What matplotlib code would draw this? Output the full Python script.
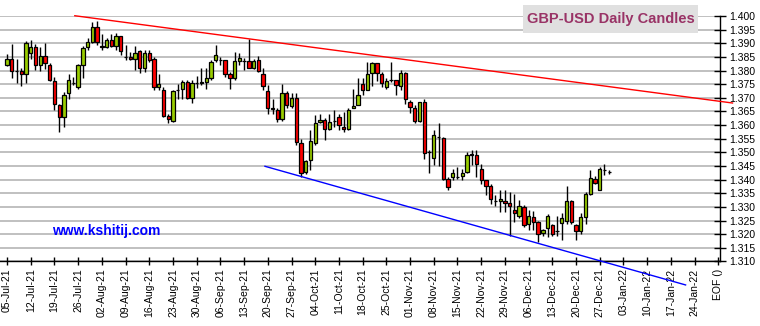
import numpy as np
import pandas as pd
import matplotlib
matplotlib.use("Agg")
import matplotlib.pyplot as plt
from matplotlib.patches import Rectangle

plt.rcParams['font.family'] = ['Liberation Sans', 'DejaVu Sans']

# GBP-USD daily OHLC, first session 05-Jul-2021
start_date = "2021-07-05"
opens = [1.3822, 1.3844, 1.3800, 1.3800, 1.3786, 1.3865, 1.3885, 1.3819, 1.3855, 1.3822,
         1.3760, 1.3672, 1.3628, 1.3716, 1.3756, 1.3738, 1.3822, 1.3885, 1.3906, 1.3958,
         1.3889, 1.3885, 1.3912, 1.3890, 1.3926, 1.3851, 1.3848, 1.3841, 1.3870, 1.3811,
         1.3866, 1.3841, 1.3738, 1.3728, 1.3635, 1.3615, 1.3730, 1.3733, 1.3757, 1.3700,
         1.3755, 1.3756, 1.3759, 1.3771, 1.3838, 1.3840, 1.3838, 1.3786, 1.3773, 1.3836,
         1.3835, 1.3835, 1.3808, 1.3838, 1.3789, 1.3724, 1.3661, 1.3657, 1.3624, 1.3716,
         1.3669, 1.3700, 1.3534, 1.3428, 1.3473, 1.3534, 1.3612, 1.3620, 1.3587, 1.3615,
         1.3630, 1.3593, 1.3587, 1.3661, 1.3673, 1.3749, 1.3730, 1.3792, 1.3826, 1.3789,
         1.3738, 1.3765, 1.3765, 1.3743, 1.3792, 1.3683, 1.3664, 1.3615, 1.3683, 1.3501,
         1.3481, 1.3557, 1.3554, 1.3403, 1.3410, 1.3410, 1.3412, 1.3428, 1.3495, 1.3489,
         1.3440, 1.3397, 1.3376, 1.3322, 1.3320, 1.3320, 1.3314, 1.3290, 1.3268, 1.3301,
         1.3238, 1.3262, 1.3243, 1.3204, 1.3223, 1.3234, 1.3213, 1.3242, 1.3248, 1.3320,
         1.3232, 1.3210, 1.3263, 1.3348, 1.3403, 1.3363, 1.3436, 1.3428]
highs = [1.3860, 1.3897, 1.3841, 1.3811, 1.3908, 1.3912, 1.3897, 1.3885, 1.3900, 1.3826,
         1.3777, 1.3679, 1.3722, 1.3787, 1.3777, 1.3824, 1.3890, 1.3918, 1.3979, 1.3982,
         1.3934, 1.3918, 1.3934, 1.3939, 1.3926, 1.3893, 1.3869, 1.3890, 1.3877, 1.3877,
         1.3875, 1.3851, 1.3787, 1.3740, 1.3640, 1.3730, 1.3752, 1.3765, 1.3765, 1.3765,
         1.3779, 1.3808, 1.3808, 1.3838, 1.3893, 1.3850, 1.3838, 1.3795, 1.3869, 1.3865,
         1.3845, 1.3914, 1.3844, 1.3853, 1.3811, 1.3746, 1.3697, 1.3664, 1.3749, 1.3724,
         1.3716, 1.3718, 1.3550, 1.3473, 1.3581, 1.3636, 1.3642, 1.3627, 1.3642, 1.3657,
         1.3642, 1.3648, 1.3664, 1.3734, 1.3771, 1.3771, 1.3832, 1.3832, 1.3829, 1.3795,
         1.3771, 1.3832, 1.3767, 1.3802, 1.3795, 1.3691, 1.3673, 1.3685, 1.3697, 1.3508,
         1.3581, 1.3608, 1.3557, 1.3410, 1.3440, 1.3446, 1.3440, 1.3501, 1.3510, 1.3510,
         1.3456, 1.3400, 1.3385, 1.3342, 1.3363, 1.3363, 1.3354, 1.3348, 1.3326, 1.3308,
         1.3287, 1.3284, 1.3250, 1.3219, 1.3275, 1.3238, 1.3268, 1.3277, 1.3375, 1.3326,
         1.3238, 1.3277, 1.3354, 1.3436, 1.3412, 1.3446, 1.3458, 1.3434]
lows = [1.3818, 1.3773, 1.3755, 1.3744, 1.3755, 1.3841, 1.3802, 1.3799, 1.3806, 1.3762,
        1.3657, 1.3575, 1.3593, 1.3694, 1.3746, 1.3734, 1.3771, 1.3877, 1.3900, 1.3893,
        1.3877, 1.3883, 1.3887, 1.3875, 1.3857, 1.3838, 1.3838, 1.3802, 1.3792, 1.3795,
        1.3832, 1.3728, 1.3728, 1.3628, 1.3606, 1.3613, 1.3697, 1.3697, 1.3694, 1.3681,
        1.3735, 1.3746, 1.3733, 1.3765, 1.3832, 1.3822, 1.3777, 1.3731, 1.3765, 1.3820,
        1.3802, 1.3811, 1.3804, 1.3795, 1.3730, 1.3642, 1.3642, 1.3612, 1.3615, 1.3661,
        1.3661, 1.3526, 1.3409, 1.3419, 1.3434, 1.3526, 1.3606, 1.3547, 1.3581, 1.3593,
        1.3581, 1.3575, 1.3581, 1.3661, 1.3673, 1.3710, 1.3728, 1.3743, 1.3762, 1.3740,
        1.3734, 1.3759, 1.3710, 1.3728, 1.3679, 1.3645, 1.3608, 1.3612, 1.3477, 1.3424,
        1.3452, 1.3449, 1.3400, 1.3361, 1.3400, 1.3403, 1.3400, 1.3424, 1.3452, 1.3410,
        1.3385, 1.3342, 1.3311, 1.3305, 1.3283, 1.3281, 1.3195, 1.3244, 1.3260, 1.3228,
        1.3216, 1.3214, 1.3171, 1.3195, 1.3189, 1.3195, 1.3195, 1.3177, 1.3238, 1.3238,
        1.3177, 1.3201, 1.3238, 1.3342, 1.3385, 1.3363, 1.3418, 1.3422]
closes = [1.3844, 1.3800, 1.3798, 1.3786, 1.3901, 1.3885, 1.3819, 1.3855, 1.3826, 1.3767,
          1.3679, 1.3628, 1.3712, 1.3764, 1.3754, 1.3819, 1.3881, 1.3903, 1.3958, 1.3903,
          1.3886, 1.3912, 1.3890, 1.3926, 1.3873, 1.3850, 1.3841, 1.3866, 1.3811, 1.3863,
          1.3838, 1.3740, 1.3752, 1.3635, 1.3623, 1.3724, 1.3728, 1.3757, 1.3699, 1.3755,
          1.3756, 1.3757, 1.3771, 1.3832, 1.3857, 1.3838, 1.3789, 1.3773, 1.3835, 1.3847,
          1.3834, 1.3811, 1.3836, 1.3798, 1.3743, 1.3661, 1.3660, 1.3624, 1.3716, 1.3673,
          1.3700, 1.3538, 1.3424, 1.3468, 1.3542, 1.3606, 1.3620, 1.3584, 1.3612, 1.3614,
          1.3600, 1.3587, 1.3657, 1.3670, 1.3712, 1.3730, 1.3789, 1.3826, 1.3792, 1.3755,
          1.3762, 1.3764, 1.3746, 1.3792, 1.3697, 1.3667, 1.3615, 1.3683, 1.3499, 1.3500,
          1.3565, 1.3556, 1.3403, 1.3373, 1.3424, 1.3409, 1.3424, 1.3489, 1.3489, 1.3456,
          1.3400, 1.3376, 1.3330, 1.3321, 1.3330, 1.3315, 1.3305, 1.3278, 1.3304, 1.3234,
          1.3265, 1.3246, 1.3201, 1.3216, 1.3267, 1.3201, 1.3212, 1.3260, 1.3320, 1.3244,
          1.3210, 1.3263, 1.3348, 1.3407, 1.3387, 1.3440, 1.3434, 1.3427]

# trend lines: (trading-day number from start, price)
red_trend_days = [14.3, 153.0]
red_trend_prices = [1.4001, 1.3681]
blue_trend_days = [54.4, 143.1]
blue_trend_prices = [1.3449, 1.3014]

# weekly axis labels run past the data, last one is the end marker
tick_mondays = pd.date_range("2021-07-05", "2022-01-24", freq="W-MON")
end_label = "EOF ()"

up_color = "#99CC00"
down_color = "#FF0000"

fig = plt.figure(figsize=(7.6, 3.26), dpi=100)
ax = fig.add_axes([0.0, 0.1979, 0.947, 0.7530])

n = len(closes)
days = np.arange(n)
body_w = 0.7
for d, o, h, l, c in zip(days, opens, highs, lows, closes):
    ax.vlines(d, l, h, color="black", linewidth=1.0, zorder=3)
    col = up_color if c >= o else down_color
    ax.add_patch(Rectangle((d - body_w / 2, min(o, c)), body_w, max(abs(c - o), 0.00002),
                           facecolor=col, edgecolor="black", linewidth=0.9, zorder=4))

ax.plot(red_trend_days, red_trend_prices, color="#FF0000", linewidth=1.0, clip_on=False, zorder=5)
ax.plot(blue_trend_days, blue_trend_prices, color="#0000FF", linewidth=1.0, clip_on=False, zorder=5)

ax.set_xlim(-1.48, 150.3)
ax.set_ylim(1.310, 1.400)

yt = np.round(np.arange(1.310, 1.4001, 0.005), 3)
ax.set_yticks(yt)
ax.set_yticklabels([f"{v:.3f}" for v in yt])
ax.yaxis.tick_right()
for v in yt:
    ax.axhline(v, color="#C0C0C0", linewidth=1.4, zorder=1)

start = np.datetime64(start_date)
tick_pos = [int(np.busday_count(start, np.datetime64(m.date()))) for m in tick_mondays]
tick_lab = [m.strftime("%d-%b-%y") for m in tick_mondays]
tick_pos.append(tick_pos[-1] + 5)
tick_lab.append(end_label)
ax.set_xticks(tick_pos)
ax.set_xticklabels(tick_lab, rotation=90)

ax.tick_params(axis="y", direction="inout", length=8, width=1, pad=3, labelsize=7.5, right=True, left=False)
ax.tick_params(axis="x", direction="inout", length=6, width=1, pad=2, labelsize=7.5)

for side in ("left", "top"):
    ax.spines[side].set_visible(False)
for side in ("right", "bottom"):
    ax.spines[side].set_color("black")
    ax.spines[side].set_linewidth(1.0)

# title box and site label
fig.patches.append(Rectangle((523 / 760, 1 - 33 / 326), 175 / 760, 28 / 326,
                             transform=fig.transFigure, facecolor="#E0E0E0",
                             edgecolor="none", zorder=6))
fig.text(610.5 / 760, 1 - 19 / 326, "GBP-USD Daily Candles", color="#993366",
         fontsize=10.5, fontweight="bold", ha="center", va="center", zorder=7)
fig.text(52 / 760, 1 - 231 / 326, "www.kshitij.com", color="#0000FF",
         fontsize=10, fontweight="bold", ha="left", va="center", zorder=7)

fig.savefig("out.png", dpi=100)
